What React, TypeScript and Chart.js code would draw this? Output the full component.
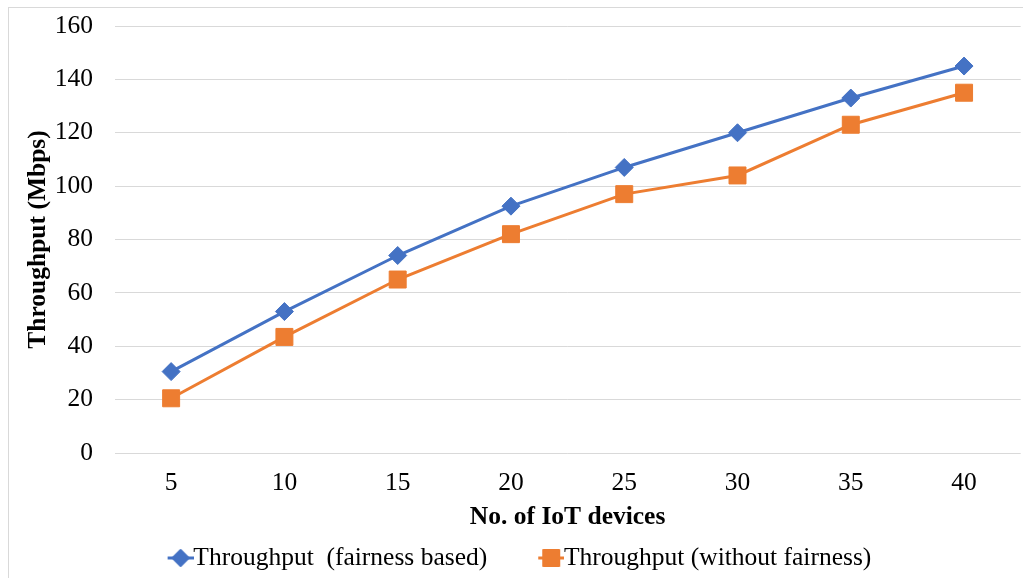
import React, { useEffect, useRef } from "react";
import { Chart, registerables } from "chart.js";

Chart.register(...registerables);

const categories = ["5", "10", "15", "20", "25", "30", "35", "40"];
const fairnessBased = [30.5, 53, 74, 92.5, 107, 120, 133, 145];
const withoutFairness = [20.5, 43.5, 65, 82, 97, 104, 123, 135];
const yMin = 0;
const yMax = 160;
const yStep = 20;
const seriesNames = ["Throughput  (fairness based)", "Throughput (without fairness)"];

const BLUE = "#4472C4";
const ORANGE = "#ED7D31";
const GRID = "#d9d9d9";
const CLEAR = "rgba(0,0,0,0)";
const FONT = "'Liberation Serif', 'Times New Roman', serif";
const FS = 25.5;
const TITLE_FS = 25.5;
const LEGEND_PAD = 52;

function legendIcon(color: string, kind: "diamond" | "square"): HTMLCanvasElement {
  const c = document.createElement("canvas");
  c.width = 38;
  c.height = 26;
  const ctx = c.getContext("2d")!;
  const cx = 25;
  const cy = 13;
  ctx.strokeStyle = color;
  ctx.lineWidth = 3;
  ctx.beginPath();
  ctx.moveTo(12, cy);
  ctx.lineTo(38, cy);
  ctx.stroke();
  ctx.fillStyle = color;
  ctx.lineJoin = "round";
  ctx.lineWidth = 2;
  ctx.beginPath();
  if (kind === "diamond") {
    ctx.moveTo(cx, cy - 8);
    ctx.lineTo(cx + 8, cy);
    ctx.lineTo(cx, cy + 8);
    ctx.lineTo(cx - 8, cy);
    ctx.closePath();
  } else {
    ctx.rect(cx - 8, cy - 8, 16, 16);
  }
  ctx.fill();
  ctx.stroke();
  return c;
}

export default function App() {
  const ref = useRef<HTMLCanvasElement | null>(null);

  useEffect(() => {
    document.body.style.margin = "0";
    const icons = [legendIcon(BLUE, "diamond"), legendIcon(ORANGE, "square")];
    const chart = new Chart(ref.current!, {
      type: "line",
      data: {
        labels: categories,
        datasets: [
          {
            label: seriesNames[0],
            data: fairnessBased,
            borderColor: BLUE,
            backgroundColor: BLUE,
            borderWidth: 3,
            pointStyle: "rectRot",
            pointRadius: 9,
            pointBorderWidth: 1,
            pointBorderColor: BLUE,
            pointBackgroundColor: BLUE,
          },
          {
            label: seriesNames[1],
            data: withoutFairness,
            borderColor: ORANGE,
            backgroundColor: ORANGE,
            borderWidth: 3,
            pointStyle: "rect",
            pointRadius: 12,
            pointBorderWidth: 1,
            pointBorderColor: ORANGE,
            pointBackgroundColor: ORANGE,
          },
        ],
      },
      options: {
        animation: false,
        responsive: false,
        maintainAspectRatio: false,
        layout: { autoPadding: false, padding: { left: 19.2, top: 26, right: 3.3, bottom: -2.75 } },
        plugins: {
          tooltip: { enabled: false },
          legend: {
            position: "bottom",
            labels: {
              usePointStyle: true,
              boxWidth: 12,
              boxHeight: 12,
              padding: LEGEND_PAD,
              color: "#000",
              font: { family: FONT, size: FS },
              generateLabels: (ch: any) =>
                ch.data.datasets.map((ds: any, i: number) => ({
                  text: ds.label,
                  fillStyle: ds.borderColor,
                  strokeStyle: ds.borderColor,
                  pointStyle: icons[i],
                  datasetIndex: i,
                  hidden: false,
                  lineWidth: 0,
                })),
            },
          },
        },
        scales: {
          x: {
            offset: true,
            grid: {
              display: true,
              drawOnChartArea: false,
              drawTicks: true,
              tickLength: 12,
              color: CLEAR,
              tickColor: CLEAR,
            },
            border: { display: false },
            ticks: { color: "#000", font: { family: FONT, size: FS }, padding: 3, maxRotation: 0 },
            title: {
              display: true,
              text: "No. of IoT devices",
              color: "#000",
              font: { family: FONT, size: TITLE_FS, weight: "bold" },
              padding: { top: 4, bottom: -39 },
            },
            afterFit: (s: any) => {
              s.height = 40.25;
              s.paddingLeft = 0;
              s.paddingRight = 0;
            },
          },
          y: {
            min: yMin,
            max: yMax,
            grid: { color: GRID, lineWidth: 1, drawTicks: true, tickLength: 18, tickColor: CLEAR },
            border: { display: false },
            ticks: { stepSize: yStep, color: "#000", font: { family: FONT, size: FS }, padding: 3.5 },
            title: {
              display: true,
              text: "Throughput (Mbps)",
              color: "#000",
              font: { family: FONT, size: TITLE_FS, weight: "bold" },
              padding: { top: 4, bottom: 4 },
            },
            afterFit: (s: any) => {
              s.width = 95.3;
            },
          },
        },
      },
    });
    return () => chart.destroy();
  }, []);

  return (
    <div style={{ position: "relative", width: 1024, height: 578, overflow: "hidden", background: "#fff" }}>
      <canvas ref={ref} width={1024} height={578} style={{ position: "absolute", left: 0, top: 0 }} />
      <div
        style={{
          position: "absolute",
          left: 8,
          top: 7,
          width: 1014,
          height: 600,
          borderLeft: "1px solid #d9d9d9",
          borderTop: "1px solid #d9d9d9",
          pointerEvents: "none",
        }}
      />
    </div>
  );
}
